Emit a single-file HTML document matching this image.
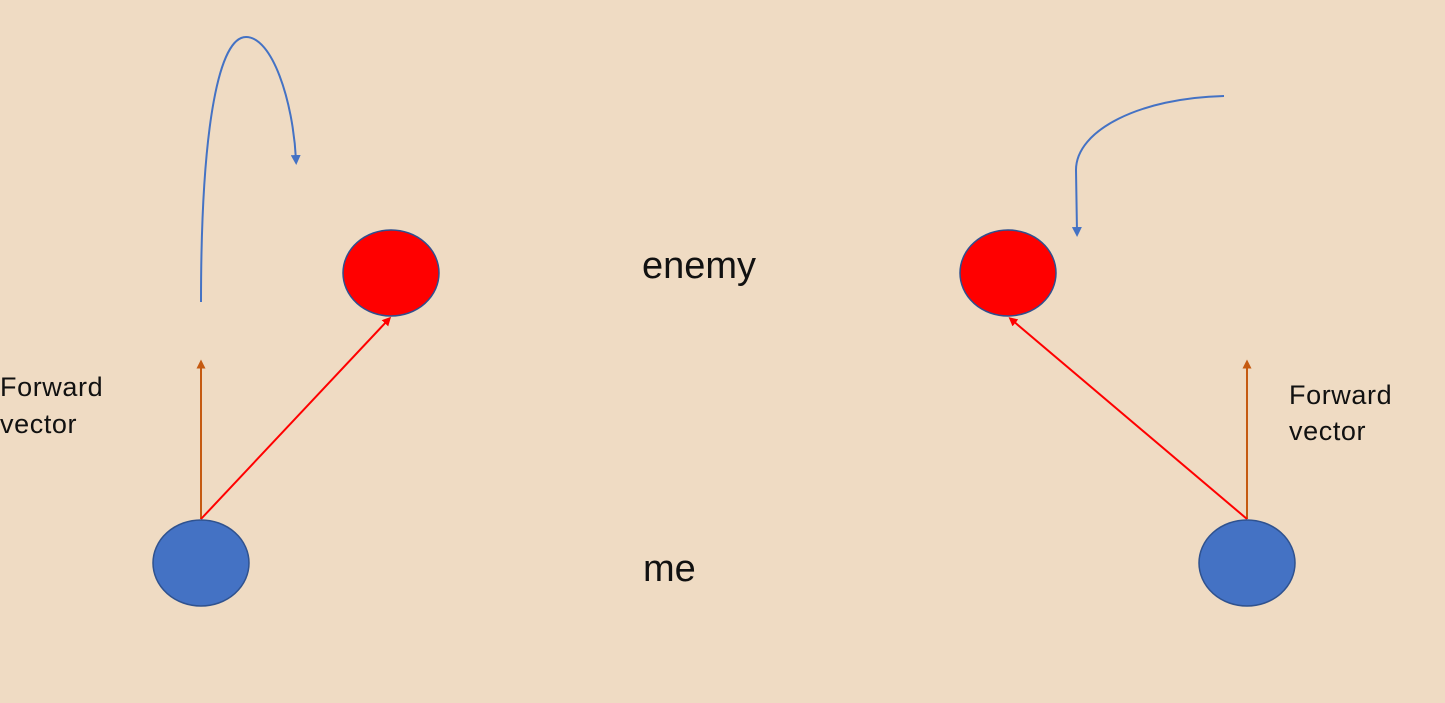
<!DOCTYPE html>
<html><head><meta charset="utf-8"><style>
html,body{margin:0;padding:0;background:#efdbc3;}
svg{display:block;}
text{font-family:"Liberation Sans",sans-serif;fill:#111;}
</style></head><body>
<svg width="1445" height="703" viewBox="0 0 1445 703">
<defs>
<marker id="ab" markerWidth="10" markerHeight="10" refX="5" refY="5" orient="auto" markerUnits="userSpaceOnUse"><path d="M0,0 L10,5 L0,10 z" fill="#4472c4"/></marker>
<marker id="ao" markerWidth="9" markerHeight="9" refX="4.5" refY="4.5" orient="auto" markerUnits="userSpaceOnUse"><path d="M0,0 L9,4.5 L0,9 z" fill="#c55a11"/></marker>
<marker id="ar" markerWidth="9" markerHeight="9" refX="4.5" refY="4.5" orient="auto" markerUnits="userSpaceOnUse"><path d="M0,0 L9,4.5 L0,9 z" fill="#ff0000"/></marker>
</defs>
<rect width="1445" height="703" fill="#efdbc3"/>
<path d="M201,302 C201,120 220,37 246,37 C272,37 293,100 296,160" fill="none" stroke="#4472c4" stroke-width="2" marker-end="url(#ab)"/>
<line x1="201" y1="519" x2="201" y2="364" stroke="#c55a11" stroke-width="2" marker-end="url(#ao)"/>
<line x1="201" y1="519" x2="388" y2="320" stroke="#ff0000" stroke-width="2" marker-end="url(#ar)"/>
<ellipse cx="391" cy="273" rx="48" ry="43" fill="#ff0000" stroke="#2f4f8f" stroke-width="1.5"/>
<ellipse cx="201" cy="563" rx="48" ry="43" fill="#4472c4" stroke="#2f528f" stroke-width="1.5"/>
<text x="0" y="396" font-size="27" letter-spacing="0.6">Forward</text>
<text x="0" y="433" font-size="27" letter-spacing="0.6">vector</text>
<path d="M1224,96 C1140,98 1076,130 1076,170 L1077,232" fill="none" stroke="#4472c4" stroke-width="2" marker-end="url(#ab)"/>
<line x1="1247" y1="519" x2="1247" y2="364" stroke="#c55a11" stroke-width="2" marker-end="url(#ao)"/>
<line x1="1247" y1="519" x2="1012" y2="320" stroke="#ff0000" stroke-width="2" marker-end="url(#ar)"/>
<ellipse cx="1008" cy="273" rx="48" ry="43" fill="#ff0000" stroke="#2f4f8f" stroke-width="1.5"/>
<ellipse cx="1247" cy="563" rx="48" ry="43" fill="#4472c4" stroke="#2f528f" stroke-width="1.5"/>
<text x="1289" y="404" font-size="27" letter-spacing="0.6">Forward</text>
<text x="1289" y="440" font-size="27" letter-spacing="0.6">vector</text>
<text x="642" y="278" font-size="38">enemy</text>
<text x="643" y="581" font-size="38">me</text>
</svg>
</body></html>
